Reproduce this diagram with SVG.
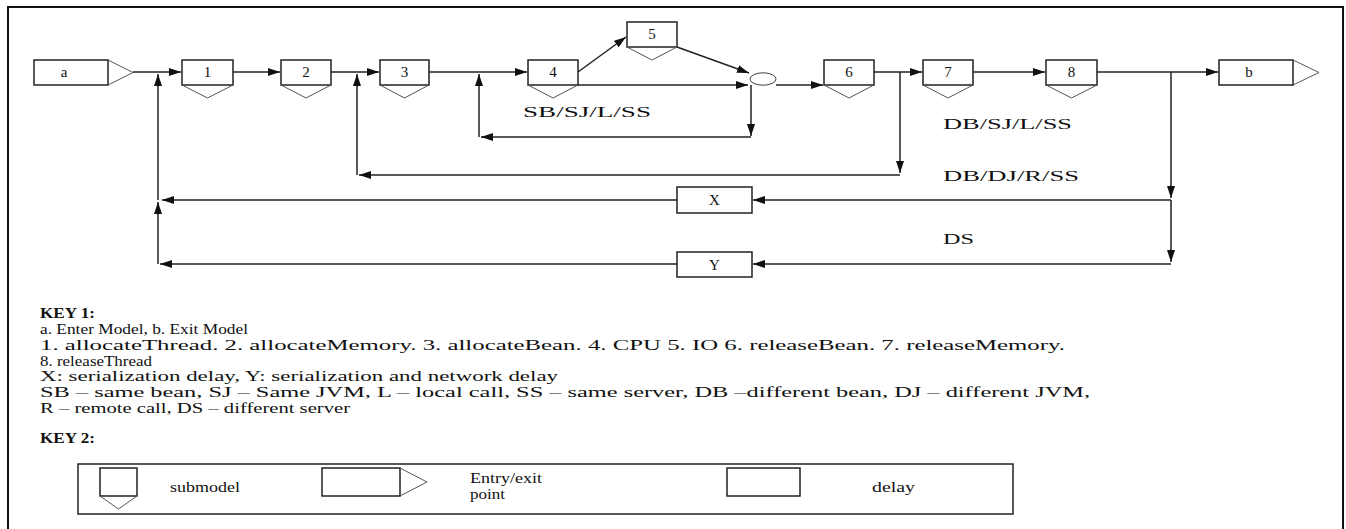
<svg xmlns="http://www.w3.org/2000/svg" width="1346" height="529" viewBox="0 0 1346 529">
<style>
.bx{fill:#fff;stroke:#222;stroke-width:1.5}
.v{fill:none;stroke:#555;stroke-width:1}
.ln{fill:none;stroke:#222;stroke-width:1.5}
.t{font-family:"Liberation Serif","Times New Roman",serif;font-size:15px;fill:#111}
.k{font-family:"Liberation Serif","Times New Roman",serif;font-size:14px;fill:#111}
.kb{font-family:"Liberation Serif","Times New Roman",serif;font-size:14px;font-weight:bold;fill:#111}
</style>
<defs>
<marker id="ar" viewBox="0 0 12 8" refX="12" refY="4" markerWidth="12" markerHeight="8" markerUnits="userSpaceOnUse" orient="auto"><path d="M0,0 L12,4 L0,8 z" fill="#111"/></marker>
</defs>
<rect width="1346" height="529" fill="#fff"/>
<path d="M8,535 V7 H1343 V535" fill="none" stroke="#111" stroke-width="2"/>

<g id="connectors" class="ln" marker-end="url(#ar)">
<path d="M133,72 H181"/>
<path d="M233,72 H280"/>
<path d="M331,72 H379"/>
<path d="M429,72 H527"/>
<path d="M874,72 H922"/>
<path d="M973,72 H1045"/>
<path d="M1097,72 H1218"/>
<path d="M578,72 L626,37"/>
<path d="M677,47 L749,73"/>
<path d="M578,85 H748"/>
<path d="M776,85 H823"/>
<path d="M751,85 V136"/>
<path d="M751,137 H481"/>
<path d="M479,137 V74"/>
<path d="M900,72 V173"/>
<path d="M900,175 H359"/>
<path d="M357,175 V74"/>
<path d="M1171,72 V198"/>
<path d="M1171,200 V262"/>
<path d="M1171,200 H753"/>
<path d="M1171,264 H753"/>
<path d="M677,200 H162"/>
<path d="M677,264 H160"/>
<path d="M158,264 V202"/>
<path d="M158,200 V74"/>
</g>

<g id="node-a"><rect class="bx" x="34" y="60" width="74" height="25"/><path class="v" d="M108,60 L133,72.5 L108,85"/><text class="t" x="64" y="77" text-anchor="middle">a</text></g>
<g id="node-1"><rect class="bx" x="182" y="60" width="51" height="25"/><path class="v" d="M182,85 L207.5,98 L233,85"/><text class="t" x="207.5" y="77" text-anchor="middle">1</text></g>
<g id="node-2"><rect class="bx" x="281" y="60" width="50" height="25"/><path class="v" d="M281,85 L306,98 L331,85"/><text class="t" x="306" y="77" text-anchor="middle">2</text></g>
<g id="node-3"><rect class="bx" x="380" y="60" width="49" height="25"/><path class="v" d="M380,85 L404.5,98 L429,85"/><text class="t" x="404.5" y="77" text-anchor="middle">3</text></g>
<g id="node-4"><rect class="bx" x="528" y="60" width="50" height="25"/><path class="v" d="M528,85 L553,98 L578,85"/><text class="t" x="553" y="77" text-anchor="middle">4</text></g>
<g id="node-5"><rect class="bx" x="627" y="22" width="50" height="25"/><path class="v" d="M627,47 L652,60 L677,47"/><text class="t" x="652" y="39" text-anchor="middle">5</text></g>
<g id="join"><ellipse cx="763" cy="79" rx="13" ry="6.2" fill="#fff" stroke="#444" stroke-width="1"/></g>
<g id="node-6"><rect class="bx" x="824" y="60" width="50" height="25"/><path class="v" d="M824,85 L849,98 L874,85"/><text class="t" x="849" y="77" text-anchor="middle">6</text></g>
<g id="node-7"><rect class="bx" x="923" y="60" width="50" height="25"/><path class="v" d="M923,85 L948,98 L973,85"/><text class="t" x="948" y="77" text-anchor="middle">7</text></g>
<g id="node-8"><rect class="bx" x="1046" y="60" width="51" height="25"/><path class="v" d="M1046,85 L1071.5,98 L1097,85"/><text class="t" x="1071.5" y="77" text-anchor="middle">8</text></g>
<g id="node-b"><rect class="bx" x="1219" y="60" width="74" height="25"/><path class="v" d="M1293,60 L1319,72.5 L1293,85"/><text class="t" x="1249" y="77" text-anchor="middle">b</text></g>
<g id="node-X"><rect class="bx" x="677" y="187" width="75" height="26"/><text class="t" x="714.5" y="205" text-anchor="middle">X</text></g>
<g id="node-Y"><rect class="bx" x="677" y="252" width="75" height="25"/><text class="t" x="714.5" y="270" text-anchor="middle">Y</text></g>

<g id="labels">
<text class="k" x="523" y="117" textLength="128" lengthAdjust="spacingAndGlyphs">SB/SJ/L/SS</text>
<text class="k" x="943" y="129" textLength="129" lengthAdjust="spacingAndGlyphs">DB/SJ/L/SS</text>
<text class="k" x="943" y="181" textLength="136" lengthAdjust="spacingAndGlyphs">DB/DJ/R/SS</text>
<text class="k" x="943" y="244" textLength="31" lengthAdjust="spacingAndGlyphs">DS</text>
</g>

<g id="key1">
<text class="kb" x="40" y="318" textLength="55" lengthAdjust="spacingAndGlyphs">KEY 1:</text>
<text class="k" x="40" y="334" textLength="208" lengthAdjust="spacingAndGlyphs">a. Enter Model, b. Exit Model</text>
<text class="k" x="40" y="350" textLength="1025" lengthAdjust="spacingAndGlyphs">1. allocateThread. 2. allocateMemory. 3. allocateBean. 4. CPU 5. IO  6. releaseBean. 7. releaseMemory.</text>
<text class="k" x="40" y="366" textLength="112" lengthAdjust="spacingAndGlyphs">8. releaseThread</text>
<text class="k" x="40" y="381" textLength="518" lengthAdjust="spacingAndGlyphs">X: serialization delay, Y: serialization and network delay</text>
<text class="k" x="40" y="397" textLength="1050" lengthAdjust="spacingAndGlyphs">SB – same bean, SJ – Same JVM, L – local call, SS – same server, DB –different bean, DJ – different JVM,</text>
<text class="k" x="40" y="413" textLength="310" lengthAdjust="spacingAndGlyphs">R – remote call, DS – different server</text>
<text class="kb" x="40" y="443" textLength="55" lengthAdjust="spacingAndGlyphs">KEY 2:</text>
</g>

<g id="key2">
<rect x="78" y="464" width="935" height="50" fill="none" stroke="#222" stroke-width="1.5"/>
<rect class="bx" x="100" y="468" width="37" height="28"/><path class="v" d="M100,496 L118.5,509 L137,496"/>
<text class="k" x="170" y="492" textLength="70" lengthAdjust="spacingAndGlyphs">submodel</text>
<rect class="bx" x="322" y="468" width="78" height="28"/><path class="v" d="M400,468 L427,482 L400,496"/>
<text class="k" x="470" y="483" textLength="72" lengthAdjust="spacingAndGlyphs">Entry/exit</text>
<text class="k" x="470" y="499" textLength="35" lengthAdjust="spacingAndGlyphs">point</text>
<rect class="bx" x="727" y="468" width="73" height="28"/>
<text class="k" x="872" y="492" textLength="43" lengthAdjust="spacingAndGlyphs">delay</text>
</g>
</svg>
